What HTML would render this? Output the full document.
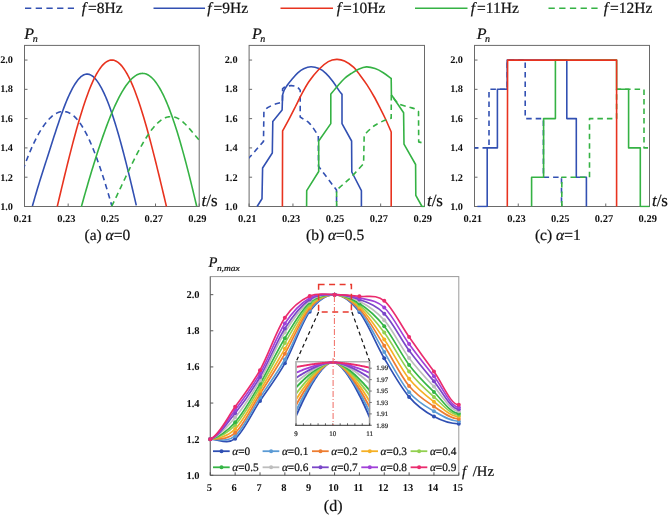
<!DOCTYPE html>
<html><head><meta charset="utf-8"><title>P_n plots</title>
<style>html,body{margin:0;padding:0;background:#fff;}body{width:668px;height:516px;overflow:hidden;}svg{display:block;will-change:transform;} text{font-family:"Liberation Serif",serif;text-rendering:geometricPrecision;} .t{fill:#111;stroke:#111;stroke-width:0.22px;}</style>
</head><body>
<svg width="668" height="516" viewBox="0 0 668 516">
<rect x="0" y="0" width="668" height="516" fill="#fff"/>
<line x1="25" y1="8.2" x2="74" y2="8.2" stroke="#3250b2" stroke-width="1.6" stroke-dasharray="6.3 4.4"/>
<text x="81.8" y="12.9" font-size="15.5" class="t"><tspan font-style="italic">f</tspan><tspan dx="2">=8Hz</tspan></text>
<line x1="153.5" y1="8.2" x2="205" y2="8.2" stroke="#3250b2" stroke-width="1.6"/>
<text x="207.3" y="12.9" font-size="15.5" class="t"><tspan font-style="italic">f</tspan><tspan dx="2">=9Hz</tspan></text>
<line x1="280.5" y1="8.2" x2="333" y2="8.2" stroke="#e8331f" stroke-width="1.6"/>
<text x="336.8" y="12.9" font-size="15.5" class="t"><tspan font-style="italic">f</tspan><tspan dx="2">=10Hz</tspan></text>
<line x1="415" y1="8.2" x2="467.5" y2="8.2" stroke="#35b244" stroke-width="1.6"/>
<text x="470.8" y="12.9" font-size="15.5" class="t"><tspan font-style="italic">f</tspan><tspan dx="2">=11Hz</tspan></text>
<line x1="548.5" y1="8.2" x2="599" y2="8.2" stroke="#35b244" stroke-width="1.6" stroke-dasharray="6.3 4.4"/>
<text x="603.8" y="12.9" font-size="15.5" class="t"><tspan font-style="italic">f</tspan><tspan dx="2">=12Hz</tspan></text>
<rect x="24.5" y="45.4" width="174.7" height="161.1" fill="none" stroke="#6a6a6a" stroke-width="1"/>
<line x1="24.5" y1="206.5" x2="27.5" y2="206.5" stroke="#6a6a6a" stroke-width="1"/>
<text x="13" y="210.05" font-size="10.3" font-weight="bold" text-anchor="end" fill="#111">1.0</text>
<line x1="24.5" y1="177.21" x2="27.5" y2="177.21" stroke="#6a6a6a" stroke-width="1"/>
<text x="13" y="180.65" font-size="10.3" font-weight="bold" text-anchor="end" fill="#111">1.2</text>
<line x1="24.5" y1="147.92" x2="27.5" y2="147.92" stroke="#6a6a6a" stroke-width="1"/>
<text x="13" y="151.25" font-size="10.3" font-weight="bold" text-anchor="end" fill="#111">1.4</text>
<line x1="24.5" y1="118.63" x2="27.5" y2="118.63" stroke="#6a6a6a" stroke-width="1"/>
<text x="13" y="121.85" font-size="10.3" font-weight="bold" text-anchor="end" fill="#111">1.6</text>
<line x1="24.5" y1="89.34" x2="27.5" y2="89.34" stroke="#6a6a6a" stroke-width="1"/>
<text x="13" y="92.45" font-size="10.3" font-weight="bold" text-anchor="end" fill="#111">1.8</text>
<line x1="24.5" y1="60.05" x2="27.5" y2="60.05" stroke="#6a6a6a" stroke-width="1"/>
<text x="13" y="63.05" font-size="10.3" font-weight="bold" text-anchor="end" fill="#111">2.0</text>
<line x1="24.5" y1="206.5" x2="24.5" y2="203.5" stroke="#6a6a6a" stroke-width="1"/>
<text x="22.7" y="222" font-size="10.5" font-weight="bold" text-anchor="middle" fill="#111">0.21</text>
<line x1="68.17" y1="206.5" x2="68.17" y2="203.5" stroke="#6a6a6a" stroke-width="1"/>
<text x="66.38" y="222" font-size="10.5" font-weight="bold" text-anchor="middle" fill="#111">0.23</text>
<line x1="111.85" y1="206.5" x2="111.85" y2="203.5" stroke="#6a6a6a" stroke-width="1"/>
<text x="110.05" y="222" font-size="10.5" font-weight="bold" text-anchor="middle" fill="#111">0.25</text>
<line x1="155.52" y1="206.5" x2="155.52" y2="203.5" stroke="#6a6a6a" stroke-width="1"/>
<text x="153.72" y="222" font-size="10.5" font-weight="bold" text-anchor="middle" fill="#111">0.27</text>
<line x1="199.2" y1="206.5" x2="199.2" y2="203.5" stroke="#6a6a6a" stroke-width="1"/>
<text x="197.4" y="222" font-size="10.5" font-weight="bold" text-anchor="middle" fill="#111">0.29</text>
<text x="24.2" y="39" font-size="16" font-style="italic" class="t">P</text>
<text x="32.8" y="41.7" font-size="10" font-style="italic" class="t">n</text>
<text x="201.6" y="205.5" font-size="17" class="t"><tspan font-style="italic">t</tspan>/s</text>
<text x="107.35" y="239.6" font-size="15.5" text-anchor="middle" class="t">(a) <tspan font-style="italic">α</tspan>=0</text>
<rect x="249.1" y="45.4" width="175.4" height="161.1" fill="none" stroke="#6a6a6a" stroke-width="1"/>
<line x1="249.1" y1="206.5" x2="252.1" y2="206.5" stroke="#6a6a6a" stroke-width="1"/>
<text x="237.6" y="210.05" font-size="10.3" font-weight="bold" text-anchor="end" fill="#111">1.0</text>
<line x1="249.1" y1="177.21" x2="252.1" y2="177.21" stroke="#6a6a6a" stroke-width="1"/>
<text x="237.6" y="180.65" font-size="10.3" font-weight="bold" text-anchor="end" fill="#111">1.2</text>
<line x1="249.1" y1="147.92" x2="252.1" y2="147.92" stroke="#6a6a6a" stroke-width="1"/>
<text x="237.6" y="151.25" font-size="10.3" font-weight="bold" text-anchor="end" fill="#111">1.4</text>
<line x1="249.1" y1="118.63" x2="252.1" y2="118.63" stroke="#6a6a6a" stroke-width="1"/>
<text x="237.6" y="121.85" font-size="10.3" font-weight="bold" text-anchor="end" fill="#111">1.6</text>
<line x1="249.1" y1="89.34" x2="252.1" y2="89.34" stroke="#6a6a6a" stroke-width="1"/>
<text x="237.6" y="92.45" font-size="10.3" font-weight="bold" text-anchor="end" fill="#111">1.8</text>
<line x1="249.1" y1="60.05" x2="252.1" y2="60.05" stroke="#6a6a6a" stroke-width="1"/>
<text x="237.6" y="63.05" font-size="10.3" font-weight="bold" text-anchor="end" fill="#111">2.0</text>
<line x1="249.1" y1="206.5" x2="249.1" y2="203.5" stroke="#6a6a6a" stroke-width="1"/>
<text x="247.3" y="222" font-size="10.5" font-weight="bold" text-anchor="middle" fill="#111">0.21</text>
<line x1="292.95" y1="206.5" x2="292.95" y2="203.5" stroke="#6a6a6a" stroke-width="1"/>
<text x="291.15" y="222" font-size="10.5" font-weight="bold" text-anchor="middle" fill="#111">0.23</text>
<line x1="336.8" y1="206.5" x2="336.8" y2="203.5" stroke="#6a6a6a" stroke-width="1"/>
<text x="335" y="222" font-size="10.5" font-weight="bold" text-anchor="middle" fill="#111">0.25</text>
<line x1="380.65" y1="206.5" x2="380.65" y2="203.5" stroke="#6a6a6a" stroke-width="1"/>
<text x="378.85" y="222" font-size="10.5" font-weight="bold" text-anchor="middle" fill="#111">0.27</text>
<line x1="424.5" y1="206.5" x2="424.5" y2="203.5" stroke="#6a6a6a" stroke-width="1"/>
<text x="422.7" y="222" font-size="10.5" font-weight="bold" text-anchor="middle" fill="#111">0.29</text>
<text x="252.1" y="39" font-size="16" font-style="italic" class="t">P</text>
<text x="260.2" y="41.7" font-size="10" font-style="italic" class="t">n</text>
<text x="426.9" y="205.5" font-size="17" class="t"><tspan font-style="italic">t</tspan>/s</text>
<text x="335.1" y="239.6" font-size="15.5" text-anchor="middle" class="t">(b) <tspan font-style="italic">α</tspan>=0.5</text>
<rect x="474.5" y="45.4" width="175.0" height="161.1" fill="none" stroke="#6a6a6a" stroke-width="1"/>
<line x1="474.5" y1="206.5" x2="477.5" y2="206.5" stroke="#6a6a6a" stroke-width="1"/>
<text x="463" y="210.05" font-size="10.3" font-weight="bold" text-anchor="end" fill="#111">1.0</text>
<line x1="474.5" y1="177.21" x2="477.5" y2="177.21" stroke="#6a6a6a" stroke-width="1"/>
<text x="463" y="180.65" font-size="10.3" font-weight="bold" text-anchor="end" fill="#111">1.2</text>
<line x1="474.5" y1="147.92" x2="477.5" y2="147.92" stroke="#6a6a6a" stroke-width="1"/>
<text x="463" y="151.25" font-size="10.3" font-weight="bold" text-anchor="end" fill="#111">1.4</text>
<line x1="474.5" y1="118.63" x2="477.5" y2="118.63" stroke="#6a6a6a" stroke-width="1"/>
<text x="463" y="121.85" font-size="10.3" font-weight="bold" text-anchor="end" fill="#111">1.6</text>
<line x1="474.5" y1="89.34" x2="477.5" y2="89.34" stroke="#6a6a6a" stroke-width="1"/>
<text x="463" y="92.45" font-size="10.3" font-weight="bold" text-anchor="end" fill="#111">1.8</text>
<line x1="474.5" y1="60.05" x2="477.5" y2="60.05" stroke="#6a6a6a" stroke-width="1"/>
<text x="463" y="63.05" font-size="10.3" font-weight="bold" text-anchor="end" fill="#111">2.0</text>
<line x1="474.5" y1="206.5" x2="474.5" y2="203.5" stroke="#6a6a6a" stroke-width="1"/>
<text x="472.7" y="222" font-size="10.5" font-weight="bold" text-anchor="middle" fill="#111">0.21</text>
<line x1="518.25" y1="206.5" x2="518.25" y2="203.5" stroke="#6a6a6a" stroke-width="1"/>
<text x="516.45" y="222" font-size="10.5" font-weight="bold" text-anchor="middle" fill="#111">0.23</text>
<line x1="562" y1="206.5" x2="562" y2="203.5" stroke="#6a6a6a" stroke-width="1"/>
<text x="560.2" y="222" font-size="10.5" font-weight="bold" text-anchor="middle" fill="#111">0.25</text>
<line x1="605.75" y1="206.5" x2="605.75" y2="203.5" stroke="#6a6a6a" stroke-width="1"/>
<text x="603.95" y="222" font-size="10.5" font-weight="bold" text-anchor="middle" fill="#111">0.27</text>
<line x1="649.5" y1="206.5" x2="649.5" y2="203.5" stroke="#6a6a6a" stroke-width="1"/>
<text x="647.7" y="222" font-size="10.5" font-weight="bold" text-anchor="middle" fill="#111">0.29</text>
<text x="476.8" y="39" font-size="16" font-style="italic" class="t">P</text>
<text x="485" y="41.7" font-size="10" font-style="italic" class="t">n</text>
<text x="651.9" y="205.5" font-size="17" class="t"><tspan font-style="italic">t</tspan>/s</text>
<text x="557.8" y="239.6" font-size="15.5" text-anchor="middle" class="t">(c) <tspan font-style="italic">α</tspan>=1</text>
<defs>
<clipPath id="cp0"><rect x="24.5" y="45.4" width="174.7" height="162.1"/></clipPath>
<clipPath id="cp1"><rect x="249.1" y="45.4" width="175.4" height="162.1"/></clipPath>
<clipPath id="cp2"><rect x="474.5" y="45.4" width="175.0" height="162.1"/></clipPath>
<clipPath id="cpi"><rect x="296.9" y="361" width="72" height="64.3"/></clipPath>
</defs>
<g clip-path="url(#cp0)">
<path d="M23 169.97L23.75 167.85L24.49 165.78L25.24 163.74L25.98 161.74L26.73 159.79L27.48 157.87L28.22 155.98L28.97 154.14L29.72 152.34L30.46 150.57L31.21 148.84L31.95 147.16L32.7 145.51L33.45 143.9L34.19 142.33L34.94 140.79L35.69 139.3L36.43 137.84L37.18 136.43L37.92 135.05L38.67 133.71L39.42 132.41L40.16 131.15L40.91 129.92L41.66 128.74L42.4 127.59L43.15 126.49L43.89 125.42L44.64 124.39L45.39 123.4L46.13 122.45L46.88 121.54L47.63 120.66L48.37 119.83L49.12 119.03L49.86 118.27L50.61 117.55L51.36 116.87L52.1 116.23L52.85 115.63L53.59 115.07L54.34 114.55L55.09 114.06L55.83 113.62L56.58 113.22L57.33 112.86L58.07 112.54L58.82 112.27L59.56 112.03L60.31 111.84L61.06 111.69L61.8 111.59L62.55 111.52L63.3 111.5L64.04 111.53L64.79 111.59L65.53 111.71L66.28 111.86L67.03 112.07L67.77 112.31L68.52 112.61L69.27 112.94L70.01 113.33L70.76 113.76L71.5 114.24L72.25 114.76L73 115.34L73.74 115.96L74.49 116.62L75.24 117.34L75.98 118.1L76.73 118.92L77.47 119.78L78.22 120.69L78.97 121.65L79.71 122.66L80.46 123.73L81.21 124.84L81.95 126L82.7 127.21L83.44 128.46L84.19 129.77L84.94 131.12L85.68 132.52L86.43 133.96L87.17 135.45L87.92 136.98L88.67 138.56L89.41 140.18L90.16 141.84L90.91 143.54L91.65 145.29L92.4 147.07L93.14 148.9L93.89 150.76L94.64 152.67L95.38 154.61L96.13 156.59L96.88 158.61L97.62 160.66L98.37 162.75L99.11 164.87L99.86 167.03L100.61 169.23L101.35 171.45L102.1 173.71L102.85 176.01L103.59 178.33L104.34 180.68L105.08 183.07L105.83 185.48L106.58 187.93L107.32 190.4L108.07 192.9L108.82 195.43L109.56 197.99L110.31 200.57L111.05 203.17L111.8 205.81" fill="none" stroke="#3250b2" stroke-width="1.6" stroke-linejoin="round" stroke-dasharray="5.5 4"/>
<path d="M32.4 206.09L33.27 202.98L34.15 199.91L35.02 196.89L35.89 193.92L36.77 190.98L37.64 188.08L38.51 185.21L39.38 182.38L40.26 179.56L41.13 176.78L42 174.01L42.88 171.26L43.75 168.52L44.62 165.8L45.5 163.08L46.37 160.37L47.24 157.65L48.12 154.94L48.99 152.22L49.86 149.49L50.74 146.76L51.61 144.03L52.48 141.3L53.35 138.58L54.23 135.87L55.1 133.17L55.97 130.5L56.85 127.85L57.72 125.22L58.59 122.63L59.47 120.06L60.34 117.54L61.21 115.06L62.09 112.62L62.96 110.24L63.83 107.9L64.71 105.63L65.58 103.41L66.45 101.26L67.32 99.18L68.2 97.16L69.07 95.22L69.94 93.35L70.82 91.55L71.69 89.83L72.56 88.18L73.44 86.62L74.31 85.14L75.18 83.74L76.06 82.43L76.93 81.21L77.8 80.08L78.67 79.03L79.55 78.09L80.42 77.23L81.29 76.48L82.17 75.82L83.04 75.27L83.91 74.81L84.79 74.47L85.66 74.23L86.53 74.1L87.41 74.08L88.28 74.17L89.15 74.37L90.03 74.68L90.9 75.1L91.77 75.62L92.64 76.24L93.52 76.97L94.39 77.8L95.26 78.73L96.14 79.75L97.01 80.87L97.88 82.09L98.76 83.4L99.63 84.8L100.5 86.29L101.38 87.87L102.25 89.54L103.12 91.29L103.99 93.13L104.87 95.05L105.74 97.05L106.61 99.13L107.49 101.29L108.36 103.53L109.23 105.84L110.11 108.23L110.98 110.68L111.85 113.21L112.73 115.81L113.6 118.48L114.47 121.21L115.35 124.01L116.22 126.87L117.09 129.79L117.96 132.77L118.84 135.8L119.71 138.89L120.58 142.03L121.46 145.23L122.33 148.47L123.2 151.76L124.08 155.1L124.95 158.47L125.82 161.89L126.7 165.35L127.57 168.84L128.44 172.37L129.32 175.93L130.19 179.52L131.06 183.14L131.93 186.79L132.81 190.46L133.68 194.16L134.55 197.88L135.43 201.61L136.3 205.36" fill="none" stroke="#3250b2" stroke-width="1.6" stroke-linejoin="round"/>
<path d="M57.26 206.5L58.35 201.9L59.44 197.3L60.53 192.72L61.62 188.14L62.72 183.59L63.81 179.06L64.9 174.55L65.99 170.08L67.08 165.64L68.18 161.24L69.27 156.89L70.36 152.59L71.45 148.34L72.54 144.14L73.63 140.01L74.73 135.95L75.82 131.95L76.91 128.03L78 124.18L79.09 120.42L80.19 116.74L81.28 113.15L82.37 109.65L83.46 106.25L84.55 102.94L85.65 99.74L86.74 96.65L87.83 93.66L88.92 90.78L90.01 88.02L91.1 85.37L92.2 82.85L93.29 80.44L94.38 78.16L95.47 76.01L96.56 73.99L97.66 72.09L98.75 70.33L99.84 68.71L100.93 67.22L102.02 65.86L103.12 64.65L104.21 63.58L105.3 62.64L106.39 61.85L107.48 61.2L108.57 60.7L109.67 60.34L110.76 60.12L111.85 60.05L112.94 60.12L114.03 60.34L115.13 60.7L116.22 61.2L117.31 61.85L118.4 62.64L119.49 63.58L120.59 64.65L121.68 65.86L122.77 67.22L123.86 68.71L124.95 70.33L126.04 72.09L127.14 73.99L128.23 76.01L129.32 78.16L130.41 80.44L131.5 82.85L132.6 85.37L133.69 88.02L134.78 90.78L135.87 93.66L136.96 96.65L138.06 99.74L139.15 102.94L140.24 106.25L141.33 109.65L142.42 113.15L143.51 116.74L144.61 120.42L145.7 124.18L146.79 128.03L147.88 131.95L148.97 135.95L150.07 140.01L151.16 144.14L152.25 148.34L153.34 152.59L154.43 156.89L155.53 161.24L156.62 165.64L157.71 170.08L158.8 174.55L159.89 179.06L160.98 183.59L162.08 188.14L163.17 192.72L164.26 197.3L165.35 201.9L166.44 206.5" fill="none" stroke="#e8331f" stroke-width="1.6" stroke-linejoin="round"/>
<path d="M81.3 206.87L82.27 203.41L83.24 199.96L84.21 196.54L85.18 193.14L86.15 189.77L87.12 186.42L88.09 183.09L89.06 179.8L90.03 176.53L91 173.29L91.97 170.08L92.94 166.9L93.91 163.76L94.88 160.64L95.85 157.57L96.82 154.53L97.79 151.53L98.76 148.56L99.73 145.64L100.69 142.76L101.66 139.91L102.63 137.12L103.6 134.36L104.57 131.65L105.54 128.99L106.51 126.37L107.48 123.81L108.45 121.29L109.42 118.82L110.39 116.41L111.36 114.05L112.33 111.74L113.3 109.49L114.27 107.3L115.24 105.16L116.21 103.09L117.18 101.07L118.15 99.11L119.12 97.22L120.09 95.39L121.06 93.62L122.03 91.92L123 90.29L123.97 88.72L124.94 87.23L125.91 85.8L126.88 84.44L127.85 83.16L128.82 81.95L129.79 80.82L130.76 79.76L131.73 78.78L132.7 77.88L133.67 77.05L134.64 76.31L135.61 75.65L136.58 75.07L137.55 74.58L138.52 74.17L139.48 73.84L140.45 73.61L141.42 73.46L142.39 73.4L143.36 73.43L144.33 73.56L145.3 73.77L146.27 74.08L147.24 74.49L148.21 74.99L149.18 75.59L150.15 76.29L151.12 77.09L152.09 77.98L153.06 78.97L154.03 80.06L155 81.23L155.97 82.51L156.94 83.87L157.91 85.33L158.88 86.88L159.85 88.52L160.82 90.24L161.79 92.06L162.76 93.96L163.73 95.95L164.7 98.02L165.67 100.18L166.64 102.42L167.61 104.75L168.58 107.15L169.55 109.64L170.52 112.21L171.49 114.86L172.46 117.58L173.43 120.39L174.4 123.27L175.37 126.22L176.34 129.25L177.31 132.35L178.27 135.52L179.24 138.76L180.21 142.06L181.18 145.43L182.15 148.86L183.12 152.35L184.09 155.9L185.06 159.5L186.03 163.15L187 166.86L187.97 170.62L188.94 174.42L189.91 178.27L190.88 182.16L191.85 186.09L192.82 190.06L193.79 194.07L194.76 198.12L195.73 202.2L196.7 206.3" fill="none" stroke="#35b244" stroke-width="1.6" stroke-linejoin="round"/>
<path d="M111.6 206.38L112.36 204.86L113.11 203.33L113.87 201.79L114.62 200.24L115.38 198.68L116.13 197.11L116.89 195.53L117.64 193.95L118.4 192.37L119.15 190.78L119.91 189.18L120.67 187.58L121.42 185.98L122.18 184.38L122.93 182.78L123.69 181.18L124.44 179.58L125.2 177.99L125.95 176.39L126.71 174.8L127.46 173.22L128.22 171.63L128.98 170.06L129.73 168.49L130.49 166.93L131.24 165.38L132 163.84L132.75 162.31L133.51 160.79L134.26 159.28L135.02 157.79L135.77 156.31L136.53 154.84L137.29 153.39L138.04 151.95L138.8 150.54L139.55 149.14L140.31 147.75L141.06 146.39L141.82 145.05L142.57 143.73L143.33 142.43L144.08 141.15L144.84 139.9L145.6 138.67L146.35 137.47L147.11 136.29L147.86 135.14L148.62 134.01L149.37 132.92L150.13 131.86L150.88 130.82L151.64 129.82L152.39 128.84L153.15 127.9L153.91 127L154.66 126.13L155.42 125.29L156.17 124.49L156.93 123.72L157.68 123L158.44 122.31L159.19 121.66L159.95 121.05L160.71 120.47L161.46 119.94L162.22 119.44L162.97 118.98L163.73 118.57L164.48 118.19L165.24 117.85L165.99 117.56L166.75 117.3L167.5 117.09L168.26 116.91L169.02 116.78L169.77 116.69L170.53 116.64L171.28 116.63L172.04 116.67L172.79 116.74L173.55 116.86L174.3 117.03L175.06 117.23L175.81 117.48L176.57 117.78L177.33 118.12L178.08 118.5L178.84 118.92L179.59 119.39L180.35 119.91L181.1 120.46L181.86 121.06L182.61 121.69L183.37 122.35L184.12 123.05L184.88 123.77L185.64 124.53L186.39 125.3L187.15 126.1L187.9 126.92L188.66 127.76L189.41 128.62L190.17 129.49L190.92 130.37L191.68 131.26L192.43 132.16L193.19 133.06L193.95 133.97L194.7 134.87L195.46 135.78L196.21 136.68L196.97 137.57L197.72 138.46L198.48 139.33L199.23 140.19L199.99 141.04L200.74 141.87L201.5 142.67" fill="none" stroke="#35b244" stroke-width="1.6" stroke-linejoin="round" stroke-dasharray="5.5 4"/>
</g>
<g clip-path="url(#cp1)">
<path d="M248 159L251.9 154.7L263.5 141.4L263.9 111.5C264.52 110.87 266.02 108.82 267.6 107.7C269.18 106.58 271.47 105.58 273.4 104.8C275.33 104.02 277.7 103.43 279.2 103C280.7 102.57 281.87 102.33 282.4 102.2L282.6 88.6C283 88.35 283.62 87.6 285 87.1C286.38 86.6 288.95 85.67 290.9 85.6C292.85 85.53 295.15 85.93 296.7 86.7C298.25 87.47 299.62 89.62 300.2 90.2L300.2 117C301 117.52 303.53 119.13 305 120.1C306.47 121.07 307.7 121.58 309 122.8C310.3 124.02 311.25 125.23 312.8 127.4C314.35 129.57 317.38 134.4 318.3 135.8L318.5 166.3L336.5 190.1L336.6 206.5" fill="none" stroke="#3250b2" stroke-width="1.6" stroke-linejoin="round" stroke-dasharray="5.5 4"/>
<path d="M257.1 206.5L262 198.8L262.6 168L272.3 153L272.8 121.6L282.1 110L282.6 94.9C282.87 94.12 283.4 91.85 284.2 90.2C285 88.55 286.1 86.83 287.4 85C288.7 83.17 290.27 81.23 292 79.2C293.73 77.17 295.85 74.55 297.8 72.8C299.75 71.05 301.5 69.7 303.7 68.7C305.9 67.7 308.45 66.82 311 66.8C313.55 66.78 316.52 67.52 319 68.6C321.48 69.68 323.58 71.17 325.9 73.3C328.22 75.43 330.62 78.38 332.9 81.4C335.18 84.42 338.08 89.27 339.6 91.4C341.12 93.53 341.6 93.73 342 94.2L342 123.6L351.6 141L351.8 172L361.4 190.7L361.4 206.5" fill="none" stroke="#3250b2" stroke-width="1.6" stroke-linejoin="round"/>
<path d="M282.4 206.5L282.6 130.9C283.58 129.12 286.35 124.27 288.5 120.2C290.65 116.13 293.37 110.72 295.5 106.5C297.63 102.28 299.05 99.07 301.3 94.9C303.55 90.73 306.05 85.78 309 81.5C311.95 77.22 315.78 72.52 319 69.2C322.22 65.88 325.37 63.23 328.3 61.6C331.23 59.97 333.9 59.5 336.6 59.4C339.3 59.3 341.63 59.67 344.5 61C347.37 62.33 351.08 64.87 353.8 67.4C356.52 69.93 358.6 73.28 360.8 76.2C363 79.12 364.8 81.52 367 84.9C369.2 88.28 371.78 92.57 374 96.5C376.22 100.43 378.38 104.75 380.3 108.5C382.22 112.25 383.68 115.08 385.5 119C387.32 122.92 390.25 129.83 391.2 132L391.2 206.5" fill="none" stroke="#e8331f" stroke-width="1.6" stroke-linejoin="round"/>
<path d="M306.6 206.5L306.7 190.7L318.7 171.5L318.7 141L330.8 123.6L330.8 94.2C331.93 92.83 335.32 88.62 337.6 86C339.88 83.38 342.18 80.62 344.5 78.5C346.82 76.38 349.17 74.85 351.5 73.3C353.83 71.75 356 70.27 358.5 69.2C361 68.13 363.73 67 366.5 66.9C369.27 66.8 372.3 67.63 375.1 68.6C377.9 69.57 380.62 71.05 383.3 72.7C385.98 74.35 389.88 77.53 391.2 78.5L391.4 94.8L403.6 112.8L404 144.2L415.6 164.5L415.8 195.3L422 206.5L426 206.5" fill="none" stroke="#35b244" stroke-width="1.6" stroke-linejoin="round"/>
<path d="M336.6 206.5L336.6 190.1L349.4 178.8C350.5 177.67 353.63 174.55 356 172C358.37 169.45 362.33 164.92 363.6 163.5L364.2 134.9C365.93 133.33 370.93 128.03 374.6 125.5C378.27 122.97 383.43 120.92 386.2 119.7C388.97 118.48 390.37 118.45 391.2 118.2L391.3 94.8C392.48 96.25 395.48 101.47 398.4 103.5C401.32 105.53 406.03 106.1 408.8 107C411.57 107.9 413.38 108.13 415 108.9C416.62 109.67 417.92 111.15 418.5 111.6L418.7 141.9L423 143L426 143.5" fill="none" stroke="#35b244" stroke-width="1.6" stroke-linejoin="round" stroke-dasharray="5.5 4"/>
</g>
<g clip-path="url(#cp2)">
<path d="M473 147.9L489 147.9L489 89.3L507.2 89.3L507.2 60.1L525.2 60.1L525.2 118.6L543.4 118.6L543.4 177.2L561.5 177.2L561.5 206.5" fill="none" stroke="#3250b2" stroke-width="1.6" stroke-linejoin="round" stroke-dasharray="5.5 4"/>
<path d="M477.4 206.5L487.2 206.5L487.2 147.9L497.4 147.9L497.4 89.3L507.2 89.3L507.2 60.1L566.8 60.1L566.8 118.6L576.3 118.6L576.3 177.2L586.4 177.2L586.4 206.5" fill="none" stroke="#3250b2" stroke-width="1.6" stroke-linejoin="round"/>
<path d="M561.8 206.5L561.8 177.2L589.5 177.2L589.5 118.6L616.6 118.6L616.6 89.3L644 89.3L644 147.9L651 147.9" fill="none" stroke="#35b244" stroke-width="1.6" stroke-linejoin="round" stroke-dasharray="5.5 4"/>
<path d="M531.6 206.5L531.6 177.2L543.6 177.2L543.6 118.6L555.4 118.6L555.4 60.1L616.6 60.1L616.6 89.3L628.6 89.3L628.6 147.9L640.3 147.9L640.3 206.5L651 206.5" fill="none" stroke="#35b244" stroke-width="1.6" stroke-linejoin="round"/>
<path d="M507.3 206.5L507.6 60.1L616.6 60.1L616.6 206.5" fill="none" stroke="#e8331f" stroke-width="1.6" stroke-linejoin="round"/>
</g>
<rect x="210.3" y="276.6" width="248.5" height="198.7" fill="none" stroke="#9a9a9a" stroke-width="1"/>
<path d="M210.3 276.6V475.3H458.8" fill="none" stroke="#707070" stroke-width="1"/>
<line x1="210.3" y1="475.3" x2="213.3" y2="475.3" stroke="#555" stroke-width="1"/>
<text x="199.5" y="478.8" font-size="10.5" font-weight="bold" text-anchor="end" fill="#111">1.0</text>
<line x1="210.3" y1="439.17" x2="213.3" y2="439.17" stroke="#555" stroke-width="1"/>
<text x="199.5" y="442.67" font-size="10.5" font-weight="bold" text-anchor="end" fill="#111">1.2</text>
<line x1="210.3" y1="403.05" x2="213.3" y2="403.05" stroke="#555" stroke-width="1"/>
<text x="199.5" y="406.55" font-size="10.5" font-weight="bold" text-anchor="end" fill="#111">1.4</text>
<line x1="210.3" y1="366.92" x2="213.3" y2="366.92" stroke="#555" stroke-width="1"/>
<text x="199.5" y="370.42" font-size="10.5" font-weight="bold" text-anchor="end" fill="#111">1.6</text>
<line x1="210.3" y1="330.79" x2="213.3" y2="330.79" stroke="#555" stroke-width="1"/>
<text x="199.5" y="334.29" font-size="10.5" font-weight="bold" text-anchor="end" fill="#111">1.8</text>
<line x1="210.3" y1="294.66" x2="213.3" y2="294.66" stroke="#555" stroke-width="1"/>
<text x="199.5" y="298.16" font-size="10.5" font-weight="bold" text-anchor="end" fill="#111">2.0</text>
<line x1="210.3" y1="475.3" x2="210.3" y2="472.3" stroke="#555" stroke-width="1"/>
<text x="209.3" y="491" font-size="10.5" font-weight="bold" text-anchor="middle" fill="#111">5</text>
<line x1="235.15" y1="475.3" x2="235.15" y2="472.3" stroke="#555" stroke-width="1"/>
<text x="234.15" y="491" font-size="10.5" font-weight="bold" text-anchor="middle" fill="#111">6</text>
<line x1="260" y1="475.3" x2="260" y2="472.3" stroke="#555" stroke-width="1"/>
<text x="259" y="491" font-size="10.5" font-weight="bold" text-anchor="middle" fill="#111">7</text>
<line x1="284.85" y1="475.3" x2="284.85" y2="472.3" stroke="#555" stroke-width="1"/>
<text x="283.85" y="491" font-size="10.5" font-weight="bold" text-anchor="middle" fill="#111">8</text>
<line x1="309.7" y1="475.3" x2="309.7" y2="472.3" stroke="#555" stroke-width="1"/>
<text x="308.7" y="491" font-size="10.5" font-weight="bold" text-anchor="middle" fill="#111">9</text>
<line x1="334.55" y1="475.3" x2="334.55" y2="472.3" stroke="#555" stroke-width="1"/>
<text x="333.55" y="491" font-size="10.5" font-weight="bold" text-anchor="middle" fill="#111">10</text>
<line x1="359.4" y1="475.3" x2="359.4" y2="472.3" stroke="#555" stroke-width="1"/>
<text x="358.4" y="491" font-size="10.5" font-weight="bold" text-anchor="middle" fill="#111">11</text>
<line x1="384.25" y1="475.3" x2="384.25" y2="472.3" stroke="#555" stroke-width="1"/>
<text x="383.25" y="491" font-size="10.5" font-weight="bold" text-anchor="middle" fill="#111">12</text>
<line x1="409.1" y1="475.3" x2="409.1" y2="472.3" stroke="#555" stroke-width="1"/>
<text x="408.1" y="491" font-size="10.5" font-weight="bold" text-anchor="middle" fill="#111">13</text>
<line x1="433.95" y1="475.3" x2="433.95" y2="472.3" stroke="#555" stroke-width="1"/>
<text x="432.95" y="491" font-size="10.5" font-weight="bold" text-anchor="middle" fill="#111">14</text>
<line x1="458.8" y1="475.3" x2="458.8" y2="472.3" stroke="#555" stroke-width="1"/>
<text x="457.8" y="491" font-size="10.5" font-weight="bold" text-anchor="middle" fill="#111">15</text>
<text x="208.6" y="266.6" font-size="14.6" font-style="italic" class="t">P</text>
<text x="216.9" y="270.6" font-size="8.6" font-style="italic" class="t" textLength="22.8" lengthAdjust="spacingAndGlyphs">n,max</text>
<text x="462" y="476.4" font-size="14.7" font-style="italic" class="t">f</text>
<text x="472.7" y="476.4" font-size="14.7" class="t">/Hz</text>
<text x="333.2" y="511" font-size="16" text-anchor="middle" class="t">(d)</text>
<path d="M210.3 439.17C218.58 439.12 226.87 445.01 235.15 438.63C243.43 432.25 251.72 413.43 260 400.88C268.28 388.32 276.57 378.18 284.85 363.31C293.13 348.43 301.42 323.08 309.7 311.64C317.98 300.2 326.27 294.6 334.55 294.66C342.83 294.72 351.12 301.41 359.4 312C367.68 322.6 375.97 344.1 384.25 358.25C392.53 372.4 400.82 387.18 409.1 396.9C417.38 406.63 425.67 412.11 433.95 416.59C442.23 421.08 450.52 423.82 458.8 423.82" fill="none" stroke="#2f4fb3" stroke-width="1.65"/>
<circle cx="210.3" cy="439.17" r="2" fill="#2f4fb3"/>
<circle cx="235.15" cy="438.63" r="2" fill="#2f4fb3"/>
<circle cx="260" cy="400.88" r="2" fill="#2f4fb3"/>
<circle cx="284.85" cy="363.31" r="2" fill="#2f4fb3"/>
<circle cx="309.7" cy="311.64" r="2" fill="#2f4fb3"/>
<circle cx="334.55" cy="294.66" r="2" fill="#2f4fb3"/>
<circle cx="359.4" cy="312" r="2" fill="#2f4fb3"/>
<circle cx="384.25" cy="358.25" r="2" fill="#2f4fb3"/>
<circle cx="409.1" cy="396.9" r="2" fill="#2f4fb3"/>
<circle cx="433.95" cy="416.59" r="2" fill="#2f4fb3"/>
<circle cx="458.8" cy="423.82" r="2" fill="#2f4fb3"/>
<path d="M210.3 439.17C218.58 438.85 226.87 442.87 235.15 435.92C243.43 428.97 251.72 410.2 260 397.47C268.28 384.73 276.57 374.09 284.85 359.51C293.13 344.94 301.42 320.83 309.7 310.02C317.98 299.21 326.27 294.6 334.55 294.66C342.83 294.72 351.12 300.81 359.4 310.38C367.68 319.95 375.97 338.47 384.25 352.11C392.53 365.74 400.82 382.36 409.1 392.21C417.38 402.05 425.67 406.33 433.95 411.17C442.23 416.02 450.52 421.29 458.8 421.29" fill="none" stroke="#5b9bd5" stroke-width="1.65"/>
<circle cx="210.3" cy="439.17" r="2" fill="#5b9bd5"/>
<circle cx="235.15" cy="435.92" r="2" fill="#5b9bd5"/>
<circle cx="260" cy="397.47" r="2" fill="#5b9bd5"/>
<circle cx="284.85" cy="359.51" r="2" fill="#5b9bd5"/>
<circle cx="309.7" cy="310.02" r="2" fill="#5b9bd5"/>
<circle cx="334.55" cy="294.66" r="2" fill="#5b9bd5"/>
<circle cx="359.4" cy="310.38" r="2" fill="#5b9bd5"/>
<circle cx="384.25" cy="352.11" r="2" fill="#5b9bd5"/>
<circle cx="409.1" cy="392.21" r="2" fill="#5b9bd5"/>
<circle cx="433.95" cy="411.17" r="2" fill="#5b9bd5"/>
<circle cx="458.8" cy="421.29" r="2" fill="#5b9bd5"/>
<path d="M210.3 439.17C218.58 438.54 226.87 440.37 235.15 432.85C243.43 425.33 251.72 407.24 260 394.05C268.28 380.87 276.57 368.04 284.85 353.73C293.13 339.42 301.42 318.06 309.7 308.21C317.98 298.37 326.27 294.57 334.55 294.66C342.83 294.75 351.12 300.23 359.4 308.75C367.68 317.27 375.97 332.9 384.25 345.78C392.53 358.67 400.82 375.95 409.1 386.07C417.38 396.18 425.67 401 433.95 406.48C442.23 411.96 450.52 418.94 458.8 418.94" fill="none" stroke="#ed7d31" stroke-width="1.65"/>
<circle cx="210.3" cy="439.17" r="2" fill="#ed7d31"/>
<circle cx="235.15" cy="432.85" r="2" fill="#ed7d31"/>
<circle cx="260" cy="394.05" r="2" fill="#ed7d31"/>
<circle cx="284.85" cy="353.73" r="2" fill="#ed7d31"/>
<circle cx="309.7" cy="308.21" r="2" fill="#ed7d31"/>
<circle cx="334.55" cy="294.66" r="2" fill="#ed7d31"/>
<circle cx="359.4" cy="308.75" r="2" fill="#ed7d31"/>
<circle cx="384.25" cy="345.78" r="2" fill="#ed7d31"/>
<circle cx="409.1" cy="386.07" r="2" fill="#ed7d31"/>
<circle cx="433.95" cy="406.48" r="2" fill="#ed7d31"/>
<circle cx="458.8" cy="418.94" r="2" fill="#ed7d31"/>
<path d="M210.3 439.17C218.58 438.16 226.87 437.15 235.15 429.06C243.43 420.97 251.72 404.01 260 390.64C268.28 377.27 276.57 362.89 284.85 348.85C293.13 334.82 301.42 315.44 309.7 306.41C317.98 297.37 326.27 294.57 334.55 294.66C342.83 294.75 351.12 299.48 359.4 306.95C367.68 314.41 375.97 327.48 384.25 339.46C392.53 351.44 400.82 368.45 409.1 378.84C417.38 389.23 425.67 395.49 433.95 401.78C442.23 408.07 450.52 416.59 458.8 416.59" fill="none" stroke="#f5b025" stroke-width="1.65"/>
<circle cx="210.3" cy="439.17" r="2" fill="#f5b025"/>
<circle cx="235.15" cy="429.06" r="2" fill="#f5b025"/>
<circle cx="260" cy="390.64" r="2" fill="#f5b025"/>
<circle cx="284.85" cy="348.85" r="2" fill="#f5b025"/>
<circle cx="309.7" cy="306.41" r="2" fill="#f5b025"/>
<circle cx="334.55" cy="294.66" r="2" fill="#f5b025"/>
<circle cx="359.4" cy="306.95" r="2" fill="#f5b025"/>
<circle cx="384.25" cy="339.46" r="2" fill="#f5b025"/>
<circle cx="409.1" cy="378.84" r="2" fill="#f5b025"/>
<circle cx="433.95" cy="401.78" r="2" fill="#f5b025"/>
<circle cx="458.8" cy="416.59" r="2" fill="#f5b025"/>
<path d="M210.3 439.17C218.58 437.76 226.87 433.74 235.15 425.08C243.43 416.43 251.72 400.9 260 387.23C268.28 373.56 276.57 356.85 284.85 343.07C293.13 329.3 301.42 312.67 309.7 304.6C317.98 296.53 326.27 294.57 334.55 294.66C342.83 294.75 351.12 298.82 359.4 305.14C367.68 311.46 375.97 321.52 384.25 332.6C392.53 343.68 400.82 360.9 409.1 371.61C417.38 382.33 425.67 389.68 433.95 396.9C442.23 404.13 450.52 414.97 458.8 414.97" fill="none" stroke="#92d050" stroke-width="1.65"/>
<circle cx="210.3" cy="439.17" r="2" fill="#92d050"/>
<circle cx="235.15" cy="425.08" r="2" fill="#92d050"/>
<circle cx="260" cy="387.23" r="2" fill="#92d050"/>
<circle cx="284.85" cy="343.07" r="2" fill="#92d050"/>
<circle cx="309.7" cy="304.6" r="2" fill="#92d050"/>
<circle cx="334.55" cy="294.66" r="2" fill="#92d050"/>
<circle cx="359.4" cy="305.14" r="2" fill="#92d050"/>
<circle cx="384.25" cy="332.6" r="2" fill="#92d050"/>
<circle cx="409.1" cy="371.61" r="2" fill="#92d050"/>
<circle cx="433.95" cy="396.9" r="2" fill="#92d050"/>
<circle cx="458.8" cy="414.97" r="2" fill="#92d050"/>
<path d="M210.3 439.17C218.58 437.47 226.87 431.42 235.15 422.19C243.43 412.97 251.72 397.82 260 383.82C268.28 369.82 276.57 351.73 284.85 338.2C293.13 324.66 301.42 309.87 309.7 302.61C317.98 295.36 326.27 294.51 334.55 294.66C342.83 294.81 351.12 298.25 359.4 303.51C367.68 308.78 375.97 316.04 384.25 326.28C392.53 336.51 400.82 353.97 409.1 364.93C417.38 375.89 425.67 383.93 433.95 392.03C442.23 400.13 450.52 413.52 458.8 413.52" fill="none" stroke="#35b545" stroke-width="1.65"/>
<circle cx="210.3" cy="439.17" r="2" fill="#35b545"/>
<circle cx="235.15" cy="422.19" r="2" fill="#35b545"/>
<circle cx="260" cy="383.82" r="2" fill="#35b545"/>
<circle cx="284.85" cy="338.2" r="2" fill="#35b545"/>
<circle cx="309.7" cy="302.61" r="2" fill="#35b545"/>
<circle cx="334.55" cy="294.66" r="2" fill="#35b545"/>
<circle cx="359.4" cy="303.51" r="2" fill="#35b545"/>
<circle cx="384.25" cy="326.28" r="2" fill="#35b545"/>
<circle cx="409.1" cy="364.93" r="2" fill="#35b545"/>
<circle cx="433.95" cy="392.03" r="2" fill="#35b545"/>
<circle cx="458.8" cy="413.52" r="2" fill="#35b545"/>
<path d="M210.3 439.17C218.58 437.01 226.87 427.29 235.15 417.5C243.43 407.7 251.72 394.59 260 380.41C268.28 366.23 276.57 345.65 284.85 332.42C293.13 319.18 301.42 307.28 309.7 300.99C317.98 294.69 326.27 294.63 334.55 294.66C342.83 294.69 351.12 296.92 359.4 301.17C367.68 305.41 375.97 310.68 384.25 320.13C392.53 329.59 400.82 346.81 409.1 357.89C417.38 368.97 425.67 377.73 433.95 386.61C442.23 395.49 450.52 411.17 458.8 411.17" fill="none" stroke="#bdbdbd" stroke-width="1.65"/>
<circle cx="210.3" cy="439.17" r="2" fill="#bdbdbd"/>
<circle cx="235.15" cy="417.5" r="2" fill="#bdbdbd"/>
<circle cx="260" cy="380.41" r="2" fill="#bdbdbd"/>
<circle cx="284.85" cy="332.42" r="2" fill="#bdbdbd"/>
<circle cx="309.7" cy="300.99" r="2" fill="#bdbdbd"/>
<circle cx="334.55" cy="294.66" r="2" fill="#bdbdbd"/>
<circle cx="359.4" cy="301.17" r="2" fill="#bdbdbd"/>
<circle cx="384.25" cy="320.13" r="2" fill="#bdbdbd"/>
<circle cx="409.1" cy="357.89" r="2" fill="#bdbdbd"/>
<circle cx="433.95" cy="386.61" r="2" fill="#bdbdbd"/>
<circle cx="458.8" cy="411.17" r="2" fill="#bdbdbd"/>
<path d="M210.3 439.17C218.58 436.57 226.87 423.52 235.15 413.16C243.43 402.8 251.72 391.11 260 376.99C268.28 362.87 276.57 341.35 284.85 328.44C293.13 315.53 301.42 305.17 309.7 299.54C317.98 293.91 326.27 294.66 334.55 294.66C342.83 294.66 351.12 296.38 359.4 299.54C367.68 302.7 375.97 305.14 384.25 313.63C392.53 322.12 400.82 339.19 409.1 350.48C417.38 361.77 425.67 371.58 433.95 381.37C442.23 391.15 450.52 409.19 458.8 409.19" fill="none" stroke="#7a46c8" stroke-width="1.65"/>
<circle cx="210.3" cy="439.17" r="2" fill="#7a46c8"/>
<circle cx="235.15" cy="413.16" r="2" fill="#7a46c8"/>
<circle cx="260" cy="376.99" r="2" fill="#7a46c8"/>
<circle cx="284.85" cy="328.44" r="2" fill="#7a46c8"/>
<circle cx="309.7" cy="299.54" r="2" fill="#7a46c8"/>
<circle cx="334.55" cy="294.66" r="2" fill="#7a46c8"/>
<circle cx="359.4" cy="299.54" r="2" fill="#7a46c8"/>
<circle cx="384.25" cy="313.63" r="2" fill="#7a46c8"/>
<circle cx="409.1" cy="350.48" r="2" fill="#7a46c8"/>
<circle cx="433.95" cy="381.37" r="2" fill="#7a46c8"/>
<circle cx="458.8" cy="409.19" r="2" fill="#7a46c8"/>
<path d="M210.3 439.17C218.58 436.25 226.87 420.84 235.15 409.91C243.43 398.98 251.72 387.97 260 373.58C268.28 359.19 276.57 336.18 284.85 323.57C293.13 310.95 301.42 302.73 309.7 297.92C317.98 293.1 326.27 294.66 334.55 294.66C342.83 294.66 351.12 295.78 359.4 297.92C367.68 300.05 375.97 299.81 384.25 307.49C392.53 315.17 400.82 332.51 409.1 343.98C417.38 355.45 425.67 365.77 433.95 376.31C442.23 386.85 450.52 407.2 458.8 407.2" fill="none" stroke="#a040d8" stroke-width="1.65"/>
<circle cx="210.3" cy="439.17" r="2" fill="#a040d8"/>
<circle cx="235.15" cy="409.91" r="2" fill="#a040d8"/>
<circle cx="260" cy="373.58" r="2" fill="#a040d8"/>
<circle cx="284.85" cy="323.57" r="2" fill="#a040d8"/>
<circle cx="309.7" cy="297.92" r="2" fill="#a040d8"/>
<circle cx="334.55" cy="294.66" r="2" fill="#a040d8"/>
<circle cx="359.4" cy="297.92" r="2" fill="#a040d8"/>
<circle cx="384.25" cy="307.49" r="2" fill="#a040d8"/>
<circle cx="409.1" cy="343.98" r="2" fill="#a040d8"/>
<circle cx="433.95" cy="376.31" r="2" fill="#a040d8"/>
<circle cx="458.8" cy="407.2" r="2" fill="#a040d8"/>
<path d="M210.3 439.17C218.58 435.94 226.87 418.34 235.15 406.84C243.43 395.34 251.72 385.01 260 370.17C268.28 355.33 276.57 330.13 284.85 317.79C293.13 305.44 301.42 299.96 309.7 296.11C317.98 292.26 326.27 294.63 334.55 294.66C342.83 294.69 351.12 295.27 359.4 296.29C367.68 297.31 375.97 294.03 384.25 300.81C392.53 307.58 400.82 325.13 409.1 336.93C417.38 348.73 425.67 360.29 433.95 371.61C442.23 382.93 450.52 404.85 458.8 404.85" fill="none" stroke="#ea2c6e" stroke-width="1.65"/>
<circle cx="210.3" cy="439.17" r="2" fill="#ea2c6e"/>
<circle cx="235.15" cy="406.84" r="2" fill="#ea2c6e"/>
<circle cx="260" cy="370.17" r="2" fill="#ea2c6e"/>
<circle cx="284.85" cy="317.79" r="2" fill="#ea2c6e"/>
<circle cx="309.7" cy="296.11" r="2" fill="#ea2c6e"/>
<circle cx="334.55" cy="294.66" r="2" fill="#ea2c6e"/>
<circle cx="359.4" cy="296.29" r="2" fill="#ea2c6e"/>
<circle cx="384.25" cy="300.81" r="2" fill="#ea2c6e"/>
<circle cx="409.1" cy="336.93" r="2" fill="#ea2c6e"/>
<circle cx="433.95" cy="371.61" r="2" fill="#ea2c6e"/>
<circle cx="458.8" cy="404.85" r="2" fill="#ea2c6e"/>
<line x1="213" y1="451.2" x2="229.7" y2="451.2" stroke="#2f4fb3" stroke-width="1.8"/>
<circle cx="221.5" cy="451.2" r="2" fill="#2f4fb3"/>
<text x="232.3" y="454.9" font-size="11.3" class="t"><tspan font-style="italic">α</tspan>=0</text>
<line x1="262.6" y1="451.2" x2="279.3" y2="451.2" stroke="#5b9bd5" stroke-width="1.8"/>
<circle cx="271.1" cy="451.2" r="2" fill="#5b9bd5"/>
<text x="281.9" y="454.9" font-size="11.3" class="t"><tspan font-style="italic">α</tspan>=0.1</text>
<line x1="312" y1="451.2" x2="328.7" y2="451.2" stroke="#ed7d31" stroke-width="1.8"/>
<circle cx="320.5" cy="451.2" r="2" fill="#ed7d31"/>
<text x="331.3" y="454.9" font-size="11.3" class="t"><tspan font-style="italic">α</tspan>=0.2</text>
<line x1="361.3" y1="451.2" x2="378" y2="451.2" stroke="#f5b025" stroke-width="1.8"/>
<circle cx="369.8" cy="451.2" r="2" fill="#f5b025"/>
<text x="380.6" y="454.9" font-size="11.3" class="t"><tspan font-style="italic">α</tspan>=0.3</text>
<line x1="410.6" y1="451.2" x2="427.3" y2="451.2" stroke="#92d050" stroke-width="1.8"/>
<circle cx="419.1" cy="451.2" r="2" fill="#92d050"/>
<text x="429.9" y="454.9" font-size="11.3" class="t"><tspan font-style="italic">α</tspan>=0.4</text>
<line x1="213" y1="467.3" x2="229.7" y2="467.3" stroke="#35b545" stroke-width="1.8"/>
<circle cx="221.5" cy="467.3" r="2" fill="#35b545"/>
<text x="232.3" y="471" font-size="11.3" class="t"><tspan font-style="italic">α</tspan>=0.5</text>
<line x1="262.6" y1="467.3" x2="279.3" y2="467.3" stroke="#bdbdbd" stroke-width="1.8"/>
<circle cx="271.1" cy="467.3" r="2" fill="#bdbdbd"/>
<text x="281.9" y="471" font-size="11.3" class="t"><tspan font-style="italic">α</tspan>=0.6</text>
<line x1="312" y1="467.3" x2="328.7" y2="467.3" stroke="#7a46c8" stroke-width="1.8"/>
<circle cx="320.5" cy="467.3" r="2" fill="#7a46c8"/>
<text x="331.3" y="471" font-size="11.3" class="t"><tspan font-style="italic">α</tspan>=0.7</text>
<line x1="361.3" y1="467.3" x2="378" y2="467.3" stroke="#a040d8" stroke-width="1.8"/>
<circle cx="369.8" cy="467.3" r="2" fill="#a040d8"/>
<text x="380.6" y="471" font-size="11.3" class="t"><tspan font-style="italic">α</tspan>=0.8</text>
<line x1="410.6" y1="467.3" x2="427.3" y2="467.3" stroke="#ea2c6e" stroke-width="1.8"/>
<circle cx="419.1" cy="467.3" r="2" fill="#ea2c6e"/>
<text x="429.9" y="471" font-size="11.3" class="t"><tspan font-style="italic">α</tspan>=0.9</text>
<path d="M318.6 284.6H351.4V312.1H318.6Z" fill="none" stroke="#e8392e" stroke-width="1.5" stroke-dasharray="6 4.5"/>
<line x1="318.6" y1="312" x2="296.2" y2="361.5" stroke="#111" stroke-width="1.2" stroke-dasharray="4 3"/>
<line x1="351.9" y1="312" x2="369.7" y2="361.5" stroke="#111" stroke-width="1.2" stroke-dasharray="4 3"/>
<rect x="296.0" y="361.7" width="73.6" height="63.6" fill="#fff"/>
<line x1="295.2" y1="361.7" x2="370.40000000000003" y2="361.7" stroke="#b4b4b4" stroke-width="1.6"/>
<line x1="296.0" y1="361.7" x2="296.0" y2="425.3" stroke="#b4b4b4" stroke-width="1.8"/>
<line x1="369.6" y1="361.7" x2="369.6" y2="425.3" stroke="#9a9a9a" stroke-width="1.6"/>
<g clip-path="url(#cpi)">
<path d="M296 416.17L296.74 414.48L297.47 412.81L298.21 411.16L298.94 409.53L299.68 407.92L300.42 406.33L301.15 404.75L301.89 403.2L302.62 401.66L303.36 400.14L304.1 398.65L304.83 397.17L305.57 395.72L306.3 394.28L307.04 392.87L307.78 391.48L308.51 390.11L309.25 388.77L309.98 387.44L310.72 386.14L311.46 384.86L312.19 383.61L312.93 382.38L313.66 381.17L314.4 380L315.14 378.84L315.87 377.72L316.61 376.62L317.34 375.54L318.08 374.5L318.82 373.49L319.55 372.5L320.29 371.55L321.02 370.63L321.76 369.74L322.5 368.89L323.23 368.08L323.97 367.3L324.7 366.56L325.44 365.87L326.18 365.22L326.91 364.61L327.65 364.06L328.38 363.57L329.12 363.15L329.86 362.8L330.59 362.56L331.33 362.5L332.06 362.5L332.8 362.5L333.54 362.5L334.27 362.5L335.01 362.56L335.74 362.81L336.48 363.16L337.22 363.6L337.95 364.1L338.69 364.66L339.42 365.27L340.16 365.94L340.9 366.65L341.63 367.4L342.37 368.2L343.1 369.03L343.84 369.9L344.58 370.8L345.31 371.74L346.05 372.72L346.78 373.72L347.52 374.76L348.26 375.82L348.99 376.92L349.73 378.04L350.46 379.19L351.2 380.37L351.94 381.57L352.67 382.8L353.41 384.06L354.14 385.34L354.88 386.64L355.62 387.97L356.35 389.32L357.09 390.7L357.82 392.1L358.56 393.52L359.3 394.96L360.03 396.43L360.77 397.91L361.5 399.42L362.24 400.95L362.98 402.49L363.71 404.06L364.45 405.65L365.18 407.26L365.92 408.89L366.66 410.53L367.39 412.2L368.13 413.88L368.86 415.59L369.6 417.31" fill="none" stroke="#2f4fb3" stroke-width="1.9"/>
<path d="M296 411.03L296.74 409.5L297.47 407.99L298.21 406.5L298.94 405.03L299.68 403.57L300.42 402.13L301.15 400.71L301.89 399.3L302.62 397.91L303.36 396.54L304.1 395.19L304.83 393.85L305.57 392.54L306.3 391.24L307.04 389.96L307.78 388.71L308.51 387.47L309.25 386.25L309.98 385.05L310.72 383.88L311.46 382.72L312.19 381.59L312.93 380.48L313.66 379.39L314.4 378.32L315.14 377.28L315.87 376.26L316.61 375.26L317.34 374.3L318.08 373.35L318.82 372.44L319.55 371.55L320.29 370.68L321.02 369.85L321.76 369.05L322.5 368.28L323.23 367.54L323.97 366.84L324.7 366.17L325.44 365.54L326.18 364.96L326.91 364.41L327.65 363.92L328.38 363.47L329.12 363.09L329.86 362.77L330.59 362.55L331.33 362.5L332.06 362.5L332.8 362.5L333.54 362.5L334.27 362.5L335.01 362.55L335.74 362.78L336.48 363.1L337.22 363.49L337.95 363.95L338.69 364.46L339.42 365.01L340.16 365.62L340.9 366.26L341.63 366.94L342.37 367.66L343.1 368.42L343.84 369.21L344.58 370.03L345.31 370.88L346.05 371.76L346.78 372.67L347.52 373.61L348.26 374.57L348.99 375.56L349.73 376.58L350.46 377.63L351.2 378.69L351.94 379.78L352.67 380.9L353.41 382.04L354.14 383.2L354.88 384.38L355.62 385.58L356.35 386.81L357.09 388.06L357.82 389.32L358.56 390.61L359.3 391.92L360.03 393.24L360.77 394.59L361.5 395.96L362.24 397.34L362.98 398.74L363.71 400.17L364.45 401.6L365.18 403.06L365.92 404.54L366.66 406.03L367.39 407.54L368.13 409.07L368.86 410.61L369.6 412.17" fill="none" stroke="#5b9bd5" stroke-width="1.9"/>
<path d="M296 405.32L296.74 403.97L297.47 402.64L298.21 401.33L298.94 400.03L299.68 398.74L300.42 397.47L301.15 396.21L301.89 394.97L302.62 393.74L303.36 392.54L304.1 391.34L304.83 390.16L305.57 389L306.3 387.86L307.04 386.73L307.78 385.62L308.51 384.53L309.25 383.46L309.98 382.4L310.72 381.36L311.46 380.34L312.19 379.34L312.93 378.36L313.66 377.4L314.4 376.46L315.14 375.54L315.87 374.64L316.61 373.76L317.34 372.91L318.08 372.08L318.82 371.27L319.55 370.48L320.29 369.72L321.02 368.99L321.76 368.28L322.5 367.6L323.23 366.95L323.97 366.33L324.7 365.74L325.44 365.19L326.18 364.67L326.91 364.19L327.65 363.75L328.38 363.36L329.12 363.02L329.86 362.74L330.59 362.55L331.33 362.5L332.06 362.5L332.8 362.5L333.54 362.5L334.27 362.5L335.01 362.55L335.74 362.75L336.48 363.04L337.22 363.39L337.95 363.8L338.69 364.25L339.42 364.75L340.16 365.29L340.9 365.87L341.63 366.48L342.37 367.13L343.1 367.8L343.84 368.51L344.58 369.25L345.31 370.01L346.05 370.8L346.78 371.62L347.52 372.46L348.26 373.32L348.99 374.21L349.73 375.13L350.46 376.06L351.2 377.02L351.94 378L352.67 379L353.41 380.02L354.14 381.06L354.88 382.12L355.62 383.2L356.35 384.29L357.09 385.41L357.82 386.55L358.56 387.7L359.3 388.87L360.03 390.06L360.77 391.27L361.5 392.5L362.24 393.74L362.98 394.99L363.71 396.27L364.45 397.56L365.18 398.87L365.92 400.19L366.66 401.53L367.39 402.88L368.13 404.25L368.86 405.63L369.6 407.03" fill="none" stroke="#ed7d31" stroke-width="1.9"/>
<path d="M296 399.61L296.74 398.44L297.47 397.29L298.21 396.15L298.94 395.02L299.68 393.91L300.42 392.8L301.15 391.72L301.89 390.64L302.62 389.58L303.36 388.53L304.1 387.5L304.83 386.48L305.57 385.47L306.3 384.48L307.04 383.5L307.78 382.54L308.51 381.59L309.25 380.66L309.98 379.75L310.72 378.85L311.46 377.96L312.19 377.1L312.93 376.25L313.66 375.41L314.4 374.6L315.14 373.8L315.87 373.02L316.61 372.26L317.34 371.52L318.08 370.8L318.82 370.1L319.55 369.42L320.29 368.76L321.02 368.12L321.76 367.51L322.5 366.92L323.23 366.36L323.97 365.82L324.7 365.31L325.44 364.83L326.18 364.38L326.91 363.96L327.65 363.58L328.38 363.24L329.12 362.95L329.86 362.71L330.59 362.54L331.33 362.5L332.06 362.5L332.8 362.5L333.54 362.5L334.27 362.5L335.01 362.54L335.74 362.72L336.48 362.97L337.22 363.28L337.95 363.63L338.69 364.03L339.42 364.47L340.16 364.94L340.9 365.44L341.63 365.97L342.37 366.53L343.1 367.12L343.84 367.74L344.58 368.38L345.31 369.05L346.05 369.74L346.78 370.45L347.52 371.18L348.26 371.94L348.99 372.71L349.73 373.51L350.46 374.32L351.2 375.16L351.94 376.01L352.67 376.88L353.41 377.77L354.14 378.68L354.88 379.6L355.62 380.54L356.35 381.5L357.09 382.47L357.82 383.47L358.56 384.47L359.3 385.49L360.03 386.53L360.77 387.58L361.5 388.65L362.24 389.73L362.98 390.83L363.71 391.94L364.45 393.06L365.18 394.2L365.92 395.36L366.66 396.52L367.39 397.7L368.13 398.9L368.86 400.1L369.6 401.32" fill="none" stroke="#f5b025" stroke-width="1.9"/>
<path d="M296 393.9L296.74 392.91L297.47 391.94L298.21 390.97L298.94 390.02L299.68 389.07L300.42 388.14L301.15 387.22L301.89 386.31L302.62 385.41L303.36 384.53L304.1 383.65L304.83 382.79L305.57 381.94L306.3 381.1L307.04 380.27L307.78 379.46L308.51 378.66L309.25 377.87L309.98 377.09L310.72 376.33L311.46 375.58L312.19 374.85L312.93 374.13L313.66 373.43L314.4 372.74L315.14 372.06L315.87 371.4L316.61 370.76L317.34 370.13L318.08 369.52L318.82 368.93L319.55 368.35L320.29 367.8L321.02 367.26L321.76 366.74L322.5 366.24L323.23 365.76L323.97 365.31L324.7 364.88L325.44 364.47L326.18 364.09L326.91 363.74L327.65 363.42L328.38 363.13L329.12 362.88L329.86 362.68L330.59 362.53L331.33 362.5L332.06 362.5L332.8 362.5L333.54 362.5L334.27 362.5L335.01 362.54L335.74 362.69L336.48 362.9L337.22 363.16L337.95 363.47L338.69 363.8L339.42 364.18L340.16 364.58L340.9 365.01L341.63 365.46L342.37 365.94L343.1 366.44L343.84 366.97L344.58 367.52L345.31 368.08L346.05 368.67L346.78 369.28L347.52 369.9L348.26 370.55L348.99 371.21L349.73 371.89L350.46 372.58L351.2 373.3L351.94 374.02L352.67 374.77L353.41 375.52L354.14 376.3L354.88 377.09L355.62 377.89L356.35 378.71L357.09 379.54L357.82 380.38L358.56 381.24L359.3 382.11L360.03 383L360.77 383.89L361.5 384.8L362.24 385.73L362.98 386.66L363.71 387.61L364.45 388.57L365.18 389.54L365.92 390.52L366.66 391.52L367.39 392.53L368.13 393.54L368.86 394.57L369.6 395.61" fill="none" stroke="#92d050" stroke-width="1.9"/>
<path d="M296 387.62L296.74 386.83L297.47 386.05L298.21 385.28L298.94 384.51L299.68 383.76L300.42 383.01L301.15 382.28L301.89 381.55L302.62 380.83L303.36 380.12L304.1 379.42L304.83 378.73L305.57 378.05L306.3 377.38L307.04 376.72L307.78 376.07L308.51 375.42L309.25 374.79L309.98 374.17L310.72 373.57L311.46 372.97L312.19 372.38L312.93 371.81L313.66 371.24L314.4 370.69L315.14 370.15L315.87 369.62L316.61 369.11L317.34 368.61L318.08 368.12L318.82 367.64L319.55 367.18L320.29 366.74L321.02 366.31L321.76 365.89L322.5 365.49L323.23 365.11L323.97 364.75L324.7 364.4L325.44 364.08L326.18 363.77L326.91 363.49L327.65 363.23L328.38 363L329.12 362.8L329.86 362.64L330.59 362.53L331.33 362.5L332.06 362.5L332.8 362.5L333.54 362.5L334.27 362.5L335.01 362.53L335.74 362.66L336.48 362.84L337.22 363.06L337.95 363.32L338.69 363.6L339.42 363.92L340.16 364.26L340.9 364.62L341.63 365L342.37 365.41L343.1 365.83L343.84 366.28L344.58 366.74L345.31 367.22L346.05 367.71L346.78 368.23L347.52 368.76L348.26 369.3L348.99 369.86L349.73 370.43L350.46 371.02L351.2 371.62L351.94 372.23L352.67 372.86L353.41 373.5L354.14 374.16L354.88 374.82L355.62 375.5L356.35 376.19L357.09 376.89L357.82 377.61L358.56 378.33L359.3 379.07L360.03 379.82L360.77 380.57L361.5 381.34L362.24 382.12L362.98 382.91L363.71 383.71L364.45 384.52L365.18 385.35L365.92 386.18L366.66 387.02L367.39 387.87L368.13 388.73L368.86 389.6L369.6 390.47" fill="none" stroke="#35b545" stroke-width="1.9"/>
<path d="M296 382.48L296.74 381.85L297.47 381.23L298.21 380.62L298.94 380.01L299.68 379.41L300.42 378.82L301.15 378.23L301.89 377.65L302.62 377.08L303.36 376.52L304.1 375.96L304.83 375.41L305.57 374.87L306.3 374.33L307.04 373.81L307.78 373.29L308.51 372.78L309.25 372.28L309.98 371.79L310.72 371.3L311.46 370.83L312.19 370.36L312.93 369.9L313.66 369.45L314.4 369.01L315.14 368.58L315.87 368.17L316.61 367.76L317.34 367.36L318.08 366.97L318.82 366.59L319.55 366.22L320.29 365.87L321.02 365.53L321.76 365.2L322.5 364.88L323.23 364.58L323.97 364.29L324.7 364.01L325.44 363.75L326.18 363.51L326.91 363.29L327.65 363.08L328.38 362.9L329.12 362.74L329.86 362.61L330.59 362.52L331.33 362.5L332.06 362.5L332.8 362.5L333.54 362.5L334.27 362.5L335.01 362.52L335.74 362.62L336.48 362.75L337.22 362.91L337.95 363.1L338.69 363.31L339.42 363.54L340.16 363.79L340.9 364.06L341.63 364.34L342.37 364.64L343.1 364.95L343.84 365.27L344.58 365.61L345.31 365.97L346.05 366.33L346.78 366.71L347.52 367.1L348.26 367.5L348.99 367.91L349.73 368.33L350.46 368.76L351.2 369.2L351.94 369.65L352.67 370.11L353.41 370.58L354.14 371.06L354.88 371.55L355.62 372.05L356.35 372.56L357.09 373.07L357.82 373.6L358.56 374.13L359.3 374.67L360.03 375.22L360.77 375.78L361.5 376.34L362.24 376.92L362.98 377.5L363.71 378.09L364.45 378.68L365.18 379.28L365.92 379.89L366.66 380.51L367.39 381.14L368.13 381.77L368.86 382.41L369.6 383.05" fill="none" stroke="#bdbdbd" stroke-width="1.9"/>
<path d="M296 377.91L296.74 377.43L297.47 376.95L298.21 376.48L298.94 376.01L299.68 375.55L300.42 375.09L301.15 374.64L301.89 374.19L302.62 373.75L303.36 373.31L304.1 372.88L304.83 372.46L305.57 372.04L306.3 371.63L307.04 371.22L307.78 370.82L308.51 370.43L309.25 370.04L309.98 369.66L310.72 369.29L311.46 368.92L312.19 368.56L312.93 368.21L313.66 367.86L314.4 367.53L315.14 367.19L315.87 366.87L316.61 366.55L317.34 366.25L318.08 365.95L318.82 365.66L319.55 365.37L320.29 365.1L321.02 364.84L321.76 364.58L322.5 364.34L323.23 364.1L323.97 363.88L324.7 363.67L325.44 363.47L326.18 363.28L326.91 363.11L327.65 362.95L328.38 362.81L329.12 362.69L329.86 362.59L330.59 362.52L331.33 362.5L332.06 362.5L332.8 362.5L333.54 362.5L334.27 362.5L335.01 362.52L335.74 362.59L336.48 362.69L337.22 362.81L337.95 362.95L338.69 363.11L339.42 363.28L340.16 363.47L340.9 363.67L341.63 363.88L342.37 364.1L343.1 364.34L343.84 364.58L344.58 364.84L345.31 365.1L346.05 365.37L346.78 365.66L347.52 365.95L348.26 366.25L348.99 366.55L349.73 366.87L350.46 367.19L351.2 367.53L351.94 367.86L352.67 368.21L353.41 368.56L354.14 368.92L354.88 369.29L355.62 369.66L356.35 370.04L357.09 370.43L357.82 370.82L358.56 371.22L359.3 371.63L360.03 372.04L360.77 372.46L361.5 372.88L362.24 373.31L362.98 373.75L363.71 374.19L364.45 374.64L365.18 375.09L365.92 375.55L366.66 376.01L367.39 376.48L368.13 376.95L368.86 377.43L369.6 377.91" fill="none" stroke="#7a46c8" stroke-width="1.9"/>
<path d="M296 372.78L296.74 372.45L297.47 372.13L298.21 371.82L298.94 371.51L299.68 371.2L300.42 370.89L301.15 370.59L301.89 370.29L302.62 370L303.36 369.71L304.1 369.42L304.83 369.14L305.57 368.86L306.3 368.59L307.04 368.32L307.78 368.05L308.51 367.79L309.25 367.53L309.98 367.28L310.72 367.03L311.46 366.78L312.19 366.54L312.93 366.31L313.66 366.08L314.4 365.85L315.14 365.63L315.87 365.41L316.61 365.2L317.34 365L318.08 364.8L318.82 364.6L319.55 364.42L320.29 364.23L321.02 364.06L321.76 363.89L322.5 363.72L323.23 363.57L323.97 363.42L324.7 363.28L325.44 363.14L326.18 363.02L326.91 362.9L327.65 362.8L328.38 362.71L329.12 362.62L329.86 362.56L330.59 362.51L331.33 362.5L332.06 362.5L332.8 362.5L333.54 362.5L334.27 362.5L335.01 362.51L335.74 362.56L336.48 362.62L337.22 362.71L337.95 362.8L338.69 362.9L339.42 363.02L340.16 363.14L340.9 363.28L341.63 363.42L342.37 363.57L343.1 363.72L343.84 363.89L344.58 364.06L345.31 364.23L346.05 364.42L346.78 364.6L347.52 364.8L348.26 365L348.99 365.2L349.73 365.41L350.46 365.63L351.2 365.85L351.94 366.08L352.67 366.31L353.41 366.54L354.14 366.78L354.88 367.03L355.62 367.28L356.35 367.53L357.09 367.79L357.82 368.05L358.56 368.32L359.3 368.59L360.03 368.86L360.77 369.14L361.5 369.42L362.24 369.71L362.98 370L363.71 370.29L364.45 370.59L365.18 370.89L365.92 371.2L366.66 371.51L367.39 371.82L368.13 372.13L368.86 372.45L369.6 372.78" fill="none" stroke="#a040d8" stroke-width="1.9"/>
<path d="M296 367.07L296.74 366.92L297.47 366.78L298.21 366.64L298.94 366.5L299.68 366.37L300.42 366.23L301.15 366.1L301.89 365.96L302.62 365.83L303.36 365.7L304.1 365.58L304.83 365.45L305.57 365.33L306.3 365.21L307.04 365.08L307.78 364.97L308.51 364.85L309.25 364.74L309.98 364.62L310.72 364.51L311.46 364.4L312.19 364.3L312.93 364.19L313.66 364.09L314.4 363.99L315.14 363.89L315.87 363.79L316.61 363.7L317.34 363.61L318.08 363.52L318.82 363.44L319.55 363.35L320.29 363.27L321.02 363.19L321.76 363.12L322.5 363.04L323.23 362.97L323.97 362.91L324.7 362.85L325.44 362.79L326.18 362.73L326.91 362.68L327.65 362.63L328.38 362.59L329.12 362.56L329.86 362.53L330.59 362.5L331.33 362.5L332.06 362.5L332.8 362.5L333.54 362.5L334.27 362.5L335.01 362.51L335.74 362.53L336.48 362.56L337.22 362.6L337.95 362.65L338.69 362.7L339.42 362.76L340.16 362.82L340.9 362.89L341.63 362.96L342.37 363.03L343.1 363.11L343.84 363.19L344.58 363.28L345.31 363.37L346.05 363.46L346.78 363.55L347.52 363.65L348.26 363.75L348.99 363.85L349.73 363.96L350.46 364.06L351.2 364.18L351.94 364.29L352.67 364.4L353.41 364.52L354.14 364.64L354.88 364.76L355.62 364.89L356.35 365.01L357.09 365.14L357.82 365.27L358.56 365.41L359.3 365.54L360.03 365.68L360.77 365.82L361.5 365.96L362.24 366.1L362.98 366.25L363.71 366.4L364.45 366.55L365.18 366.7L365.92 366.85L366.66 367L367.39 367.16L368.13 367.32L368.86 367.48L369.6 367.64" fill="none" stroke="#ea2c6e" stroke-width="1.9"/>
</g>
<line x1="295.1" y1="425.3" x2="370.40000000000003" y2="425.3" stroke="#333" stroke-width="1"/>
<line x1="296" y1="425.3" x2="296" y2="423.3" stroke="#333" stroke-width="0.8"/>
<line x1="303.36" y1="425.3" x2="303.36" y2="423.3" stroke="#333" stroke-width="0.8"/>
<line x1="310.72" y1="425.3" x2="310.72" y2="423.3" stroke="#333" stroke-width="0.8"/>
<line x1="318.08" y1="425.3" x2="318.08" y2="423.3" stroke="#333" stroke-width="0.8"/>
<line x1="325.44" y1="425.3" x2="325.44" y2="423.3" stroke="#333" stroke-width="0.8"/>
<line x1="332.8" y1="425.3" x2="332.8" y2="423.3" stroke="#333" stroke-width="0.8"/>
<line x1="340.16" y1="425.3" x2="340.16" y2="423.3" stroke="#333" stroke-width="0.8"/>
<line x1="347.52" y1="425.3" x2="347.52" y2="423.3" stroke="#333" stroke-width="0.8"/>
<line x1="354.88" y1="425.3" x2="354.88" y2="423.3" stroke="#333" stroke-width="0.8"/>
<line x1="362.24" y1="425.3" x2="362.24" y2="423.3" stroke="#333" stroke-width="0.8"/>
<line x1="369.6" y1="425.3" x2="369.6" y2="423.3" stroke="#333" stroke-width="0.8"/>
<line x1="369.6" y1="425.3" x2="371.8" y2="425.3" stroke="#555" stroke-width="0.8"/>
<text x="376.2" y="427.5" font-size="6.8" fill="#222" stroke="#222" stroke-width="0.18">1.89</text>
<line x1="369.6" y1="413.88" x2="371.8" y2="413.88" stroke="#555" stroke-width="0.8"/>
<text x="376.2" y="416.08" font-size="6.8" fill="#222" stroke="#222" stroke-width="0.18">1.91</text>
<line x1="369.6" y1="402.46" x2="371.8" y2="402.46" stroke="#555" stroke-width="0.8"/>
<text x="376.2" y="404.66" font-size="6.8" fill="#222" stroke="#222" stroke-width="0.18">1.93</text>
<line x1="369.6" y1="391.05" x2="371.8" y2="391.05" stroke="#555" stroke-width="0.8"/>
<text x="376.2" y="393.25" font-size="6.8" fill="#222" stroke="#222" stroke-width="0.18">1.95</text>
<line x1="369.6" y1="379.63" x2="371.8" y2="379.63" stroke="#555" stroke-width="0.8"/>
<text x="376.2" y="381.83" font-size="6.8" fill="#222" stroke="#222" stroke-width="0.18">1.97</text>
<line x1="369.6" y1="368.21" x2="371.8" y2="368.21" stroke="#555" stroke-width="0.8"/>
<text x="376.2" y="370.41" font-size="6.8" fill="#222" stroke="#222" stroke-width="0.18">1.99</text>
<text x="296" y="436" font-size="7" text-anchor="middle" fill="#222" stroke="#222" stroke-width="0.18">9</text>
<text x="332.8" y="436" font-size="7" text-anchor="middle" fill="#222" stroke="#222" stroke-width="0.18">10</text>
<text x="369.6" y="436" font-size="7" text-anchor="middle" fill="#222" stroke="#222" stroke-width="0.18">11</text>
<line x1="334.4" y1="296" x2="334.4" y2="361" stroke="#ee5a50" stroke-width="0.9" stroke-dasharray="6 2 1 2"/>
<line x1="333.1" y1="358" x2="333.1" y2="425" stroke="#ee5a50" stroke-width="0.9" stroke-dasharray="6 2 1 2"/>
</svg>
</body></html>
